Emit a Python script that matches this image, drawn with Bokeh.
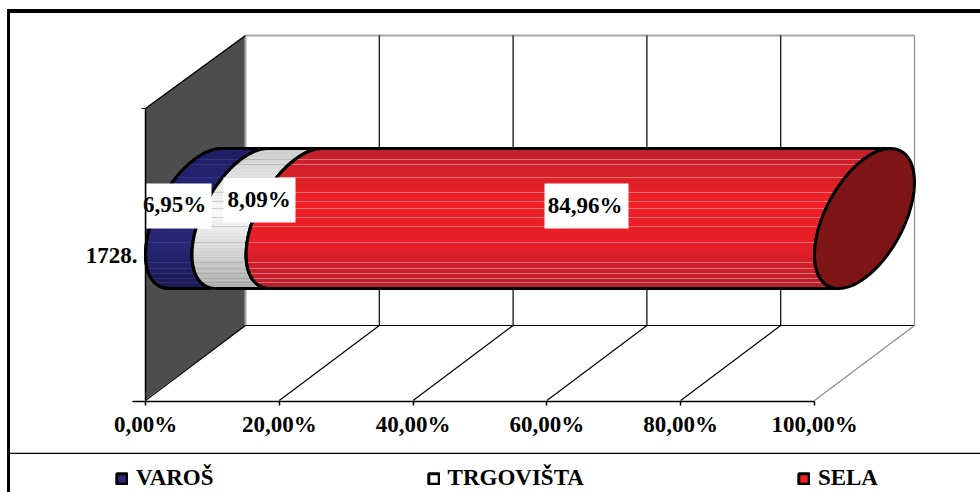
import math
from bokeh.plotting import figure
from bokeh.layouts import column
from bokeh.models import (Range1d, LinearAxis, FixedTicker, Legend, LegendItem)
from bokeh.core.properties import value
from bokeh.embed import file_html
from bokeh.resources import INLINE

# ---- data -------------------------------------------------------------
categories = ["1728."]
series_names = ["VAROŠ", "TRGOVIŠTA", "SELA"]
series_values = [6.95, 8.09, 84.96]
tick_values = [0, 20, 40, 60, 80, 100]
tick_labels = ["0,00%", "20,00%", "40,00%", "60,00%", "80,00%", "100,00%"]
label_texts = ["6,95%", "8,09%", "84,96%"]
base_colors = ["#29297e", "#ffffff", "#ee2024"]

# ---- layout of the pseudo-3D box, in picture pixels ----------------------
PX = 6.69            # px per percent
X0 = 145             # picture x of 0 %
DX, DY = 100, 74     # depth offset of the 3-D box
FLOOR = 400
FRAME_BOTTOM = 401
BAR_TOP, BAR_BOT = 148, 288
CY = (BAR_TOP + BAR_BOT) / 2
A, B = DX / 2, (BAR_BOT - BAR_TOP) / 2
PHI = math.radians(31.3)
FONT = "Liberation Serif"
FS = "23px"
W, H, H2 = 980, 452, 40

p = figure(width=W, height=H, frame_height=FRAME_BOTTOM, frame_width=W,
           output_backend="svg", toolbar_location=None,
           x_range=Range1d(-X0 / PX, (W - X0) / PX),
           y_range=Range1d(FRAME_BOTTOM, 0),
           min_border_left=0, min_border_right=0, min_border_top=0, min_border_bottom=0,
           x_axis_location=None, y_axis_location=None,
           background_fill_color=None, border_fill_color=None)
p.grid.visible = False
p.outline_line_color = None
# outer chart border (runs through the plot and the legend strip below it)
p.styles = {"background": "linear-gradient(#000,#000) 7px 9px / 973px 4px no-repeat,"
                          "linear-gradient(#000,#000) 7px 9px / 3px 100% no-repeat"}


def px(xpage):
    return (xpage - X0) / PX


# left wall
p.patch([0, px(X0 + DX), px(X0 + DX), 0],
        [108, 35, 325, 399],
        fill_color="#4d4d4d", line_color=None)
p.line([px(X0 + DX)] * 2, [35, 325], line_color="#a6a6a6", line_width=2)
p.line([0, px(X0 + DX)], [108, 35], line_color="#000000", line_width=1.5)
p.line([0, 0], [108, 400], line_color="#000000", line_width=1.5)
p.line([px(X0 - 4), 0], [108, 108], line_color="#000000", line_width=1.2)
p.line([px(X0 + DX), px(X0 + DX + 100 * PX)], [35, 35], line_color="#a6a6a6", line_width=2)
p.line([px(X0 + DX), px(X0 + DX + 100 * PX)], [325, 325], line_color="#000000", line_width=1)

# grid lines on back wall and floor
for t in tick_values:
    col = "#8c8c8c" if t == 100 else "#000000"
    if t > 0:
        p.line([t + DX / PX] * 2, [35, 325], line_color=col, line_width=1.2)
    p.line([t, t + DX / PX], [FLOOR, FLOOR - DY - 1], line_color=col, line_width=1.2)


def edge_x(v, y):
    """Picture x of the left half of the bar section at value v, picture row y."""
    s = max(-1, min(1, (CY - y) / B))
    th = math.pi - math.asin(s)
    return X0 + v * PX + A + A * math.cos(th - PHI)


def arc(v, n=48):
    """Left half of the section, from the top tangent to the bottom tangent."""
    xs, ys = [], []
    for i in range(n + 1):
        th = math.pi / 2 + math.pi * i / n
        xs.append(px(X0 + v * PX + A + A * math.cos(th - PHI)))
        ys.append(CY - B * math.sin(th))
    return xs, ys


def shade(stops, f):
    for (a, ca), (b, cb) in zip(stops, stops[1:]):
        if a <= f <= b:
            k = (f - a) / (b - a)
            return "#%02x%02x%02x" % tuple(round(ca[i] + (cb[i] - ca[i]) * k) for i in range(3))
    return "#000000"


gradients = [
    [(0, (30, 30, 100)), (.4, (40, 40, 125)), (.7, (38, 38, 115)), (1, (24, 24, 80))],
    [(0, (205, 205, 205)), (.45, (250, 250, 250)), (.75, (208, 208, 208)), (1, (170, 170, 170))],
    [(0, (190, 32, 44)), (.35, (240, 32, 38)), (.7, (228, 30, 40)), (1, (175, 32, 45))],
]
stripe_rows = [159, 164, 177, 192, 201, 208, 217, 226, 242, 262, 268, 273, 278, 282]

starts = [sum(series_values[:i]) for i in range(len(series_values))]
for i, (v, c) in enumerate(zip(series_values, base_colors)):
    v0, v1 = starts[i], starts[i] + v
    ax, ay = arc(v0)
    bx, by = arc(v1)
    xs, ys = ax + bx[::-1], ay + by[::-1]
    p.patch(xs, ys, fill_color=c, line_color="#000000", line_width=3, line_join="round")
    rows = list(range(BAR_TOP, BAR_BOT, 3))
    p.quad(left=[px(edge_x(v0, y + 1.5)) for y in rows],
           right=[px(edge_x(v1, y + 1.5)) for y in rows],
           top=rows, bottom=[y + 3.3 for y in rows],
           fill_color=[shade(gradients[i], (y - BAR_TOP) / (BAR_BOT - BAR_TOP)) for y in rows],
           line_color=None)
    p.segment(x0=[px(edge_x(v0, y)) for y in stripe_rows], y0=stripe_rows,
              x1=[px(edge_x(v1, y)) for y in stripe_rows], y1=stripe_rows,
              line_color="#ffffff" if i == 2 else "#8a8a8a" if i == 1 else "#5a5aa0",
              line_alpha=0.35, line_width=1)
    p.patch(xs, ys, fill_color=None, line_color="#000000", line_width=3, line_join="round")

# end cap
end = sum(series_values)
cap_x, cap_y = [], []
for i in range(97):
    th = 2 * math.pi * i / 96
    cap_x.append(px(X0 + end * PX + A + A * math.cos(th - PHI)))
    cap_y.append(CY - B * math.sin(th))
p.patch(cap_x, cap_y, fill_color="#7d1416", line_color="#000000", line_width=3, line_join="round")

# data labels
boxes = [(146, 211, 183, 228), (223, 295, 177, 222), (544, 628, 183, 228)]
centres = [(174, 203.5), (258.7, 198.5), (584.7, 205)]
for (l, r, t, b) in boxes:
    p.quad(left=[px(l)], right=[px(r)], top=[t], bottom=[b], fill_color="#ffffff", line_color=None)
p.text(x=[px(c[0]) for c in centres], y=[c[1] for c in centres], text=label_texts,
       text_font=value(FONT), text_font_style="bold", text_font_size=FS,
       text_align="center", text_baseline="middle", text_color="#000000")

# category label
p.text(x=[px(137)], y=[255], text=categories, text_font=value(FONT), text_font_style="bold",
       text_font_size=FS, text_align="right", text_baseline="middle", text_color="#000000")

# value axis
ax1 = LinearAxis(ticker=FixedTicker(ticks=tick_values), bounds=(-2, 100),
                 major_label_overrides={t: s for t, s in zip(tick_values, tick_labels)})
ax1.major_label_text_font = FONT
ax1.major_label_text_font_style = "bold"
ax1.major_label_text_font_size = FS
ax1.major_label_text_color = "#000000"
ax1.major_label_standoff = 6
ax1.major_tick_in = 0
ax1.major_tick_out = 4
ax1.major_tick_line_width = 1.5
ax1.major_tick_line_color = "#000000"
ax1.minor_tick_line_color = None
ax1.axis_line_color = "#000000"
ax1.axis_line_width = 1.5
ax1.axis_label = " "
ax1.axis_label_text_font_size = "9px"
ax1.axis_label_standoff = 0
p.add_layout(ax1, "below")

# ---- legend strip, directly under the plot -------------------------------
p2 = figure(width=W, height=H2, output_backend="svg", toolbar_location=None,
            x_range=Range1d(0, W), y_range=Range1d(H2, 0),
            min_border_left=0, min_border_right=0, min_border_top=0, min_border_bottom=0,
            x_axis_location=None, y_axis_location=None,
            background_fill_color=None, border_fill_color=None)
p2.grid.visible = False
p2.outline_line_color = None
p2.styles = {"background": "linear-gradient(#000,#000) 7px 0 / 3px 100% no-repeat"}
p2.line([9, W], [0.75, 0.75], line_color="#000000", line_width=1.5)

legend_items = []
for name, c in zip(series_names, base_colors):
    # the swatch's source mark lies outside the visible range; only its legend entry shows
    swatch = p2.quad(left=[-20], right=[-10], top=[-20], bottom=[-10], fill_color=c,
                     line_color="#000000", line_width=3)
    legend_items.append(LegendItem(label=name, renderers=[swatch]))

legend = Legend(items=legend_items, orientation="horizontal", location=(115, 1),
                spacing=213, glyph_width=13, glyph_height=13, label_standoff=8,
                label_text_font=FONT, label_text_font_style="bold", label_text_font_size=FS,
                label_text_color="#000000", border_line_color=None, background_fill_color=None,
                padding=4, margin=0)
p2.add_layout(legend, "center")

open("out.html", "w").write(file_html(column(p, p2, spacing=0), INLINE))
